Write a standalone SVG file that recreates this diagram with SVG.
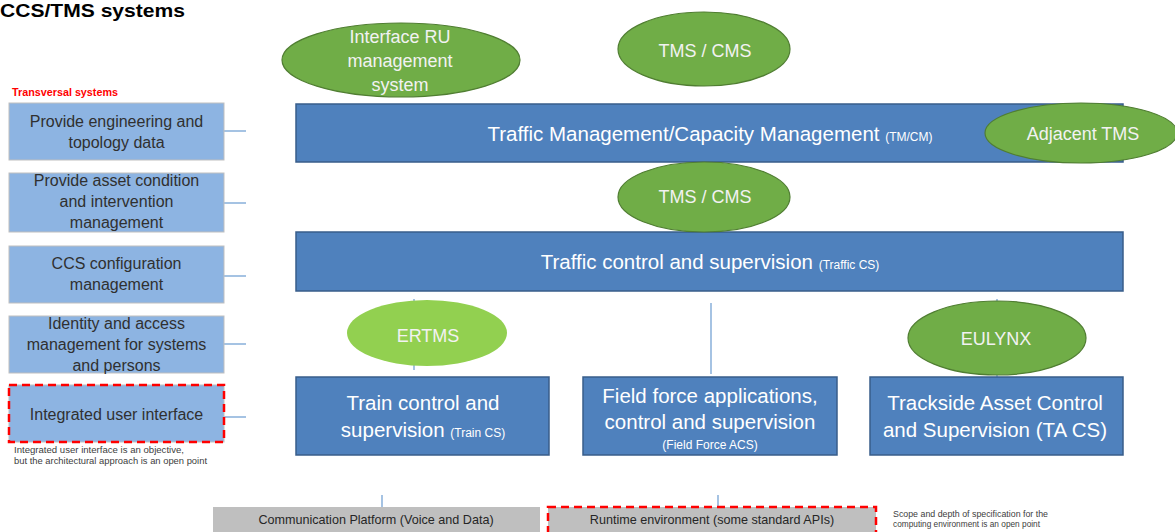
<svg xmlns="http://www.w3.org/2000/svg" width="1175" height="532" viewBox="0 0 1175 532">
<style>
text{font-family:"Liberation Sans",Arial,sans-serif}
.side{fill:#8DB4E2;stroke:#BFBFBF;stroke-width:1}
.sidet{fill:#303030;font-size:16px;text-anchor:middle}
.main{fill:#4F81BD;stroke:#385D8A;stroke-width:1.5}
.maint{fill:#FFFFFF;font-size:20.5px;text-anchor:middle}
.small{font-size:12px}
.ell{fill:#70AD47;stroke:#507E32;stroke-width:1.2}
.ellt{fill:#F2F2F2;font-size:18px;text-anchor:middle}
.grey{fill:#BFBFBF}
.greyt{fill:#262626;font-size:12.6px;text-anchor:middle}
.red{fill:none;stroke:#FF0000;stroke-width:2.5;stroke-dasharray:8 5}
.conn{stroke:#6A9BD1;stroke-width:1.2;fill:none}
.note{fill:#404040;font-size:9px}
</style>
<rect width="1175" height="532" fill="#FFFFFF"/>
<text x="0" y="16.5" font-size="18.5" font-weight="bold" fill="#000000" textLength="185" lengthAdjust="spacingAndGlyphs">CCS/TMS systems</text>
<text x="12" y="96" font-size="10.5" font-weight="bold" fill="#FF0000" textLength="106" lengthAdjust="spacingAndGlyphs">Transversal systems</text>

<g id="connectors">
<line class="conn" x1="224" y1="131" x2="246" y2="131"/>
<line class="conn" x1="224" y1="203" x2="246" y2="203"/>
<line class="conn" x1="224" y1="276" x2="246" y2="276"/>
<line class="conn" x1="224" y1="344" x2="246" y2="344"/>
<line class="conn" x1="224" y1="417" x2="246" y2="417"/>
<line class="conn" x1="414" y1="299" x2="414" y2="370"/>
<line class="conn" x1="711" y1="303" x2="711" y2="374"/>
<line class="conn" x1="997" y1="299" x2="997" y2="377"/>
<line class="conn" x1="382" y1="495" x2="382" y2="507"/>
<line class="conn" x1="718" y1="495" x2="718" y2="507"/>
</g>

<g id="side-engineering">
<rect class="side" x="9" y="103" width="215" height="57"/>
<text class="sidet" x="116.5" y="127">Provide engineering and</text>
<text class="sidet" x="116.5" y="148">topology data</text>
</g>
<g id="side-asset">
<rect class="side" x="9" y="173" width="215" height="59"/>
<text class="sidet" x="116.5" y="186">Provide asset condition</text>
<text class="sidet" x="116.5" y="207">and intervention</text>
<text class="sidet" x="116.5" y="228">management</text>
</g>
<g id="side-config">
<rect class="side" x="9" y="246" width="215" height="57"/>
<text class="sidet" x="116.5" y="269">CCS configuration</text>
<text class="sidet" x="116.5" y="290">management</text>
</g>
<g id="side-identity">
<rect class="side" x="9" y="316" width="215" height="57"/>
<text class="sidet" x="116.5" y="329">Identity and access</text>
<text class="sidet" x="116.5" y="350">management for systems</text>
<text class="sidet" x="116.5" y="371">and persons</text>
</g>
<g id="side-ui">
<rect class="side" x="9" y="385" width="215" height="57" stroke="none"/>
<rect class="red" x="9" y="385" width="215" height="57"/>
<text class="sidet" x="116.5" y="420">Integrated user interface</text>
<text class="note" x="14" y="453" textLength="170" lengthAdjust="spacingAndGlyphs">Integrated user interface is an objective,</text>
<text class="note" x="14" y="464" textLength="193" lengthAdjust="spacingAndGlyphs">but the architectural approach is an open point</text>
</g>

<g id="tmcm">
<rect class="main" x="296" y="104" width="827" height="58"/>
<text class="maint" x="710" y="141">Traffic Management/Capacity Management <tspan class="small">(TM/CM)</tspan></text>
</g>
<g id="adjacent-tms">
<ellipse class="ell" cx="1081" cy="133" rx="96" ry="30"/>
<text class="ellt" x="1083" y="140" font-size="15.5px">Adjacent TMS</text>
</g>
<g id="interface-ru">
<ellipse class="ell" cx="401" cy="60" rx="119" ry="37"/>
<text class="ellt" x="400" y="43">Interface RU</text>
<text class="ellt" x="400" y="67">management</text>
<text class="ellt" x="400" y="91">system</text>
</g>
<g id="tms-cms-top">
<ellipse class="ell" cx="704" cy="49" rx="86" ry="37"/>
<text class="ellt" x="705" y="57">TMS / CMS</text>
</g>

<g id="traffic-cs">
<rect class="main" x="296" y="232" width="827" height="59"/>
<text class="maint" x="710" y="269">Traffic control and supervision <tspan class="small">(Traffic CS)</tspan></text>
</g>
<g id="tms-cms-mid">
<ellipse class="ell" cx="704" cy="197" rx="86" ry="35"/>
<text class="ellt" x="705" y="203">TMS / CMS</text>
</g>

<g id="ertms">
<ellipse cx="427" cy="333" rx="80" ry="33" fill="#92D050"/>
<text class="ellt" x="428" y="342">ERTMS</text>
</g>
<g id="eulynx">
<ellipse class="ell" cx="997" cy="338" rx="89" ry="37"/>
<text class="ellt" x="996" y="345" font-size="16.5px">EULYNX</text>
</g>

<g id="train-cs">
<rect class="main" x="296" y="377" width="253" height="78"/>
<text class="maint" x="423" y="410">Train control and</text>
<text class="maint" x="423" y="437">supervision <tspan class="small">(Train CS)</tspan></text>
</g>
<g id="field-force">
<rect class="main" x="583" y="377" width="254" height="78"/>
<text class="maint" x="710" y="403">Field force applications,</text>
<text class="maint" x="710" y="429">control and supervision</text>
<text class="maint small" x="710" y="449">(Field Force ACS)</text>
</g>
<g id="ta-cs">
<rect class="main" x="870" y="377" width="253" height="78"/>
<text class="maint" x="995" y="410" font-size="20.3px">Trackside Asset Control</text>
<text class="maint" x="995" y="437" font-size="20.3px">and Supervision (TA CS)</text>
</g>

<g id="comm-platform">
<rect class="grey" x="213" y="507" width="327" height="30"/>
<text class="greyt" x="376" y="524">Communication Platform (Voice and Data)</text>
</g>
<g id="runtime">
<rect class="grey" x="548" y="507" width="328" height="30"/>
<rect class="red" x="548" y="507" width="328" height="30"/>
<text class="greyt" x="712" y="524">Runtime environment (some standard APIs)</text>
<text class="note" x="893" y="517" textLength="155" lengthAdjust="spacingAndGlyphs">Scope and depth of specification for the</text>
<text class="note" x="893" y="527" textLength="147" lengthAdjust="spacingAndGlyphs">computing environment is an open point</text>
</g>
</svg>
